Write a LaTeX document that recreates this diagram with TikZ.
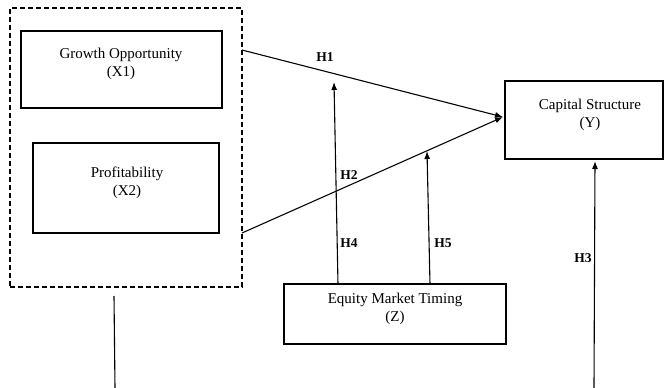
\documentclass[tikz,border=0pt]{standalone}
\usepackage{fontspec}
\setmainfont{Liberation Serif}
\usetikzlibrary{arrows.meta}
\begin{document}
\begin{tikzpicture}[x=1pt,y=-1pt,
  box/.style={draw,line width=1.1pt,inner sep=0pt},
  boxtext/.style={align=center,font=\fontsize{15}{18}\selectfont,inner sep=0pt},
  hlabel/.style={font=\fontsize{13.5}{15}\selectfont\bfseries,inner sep=0pt},
  conn/.style={line width=1.1pt},
  arr/.style={conn,-{Latex[length=8pt,width=6pt]}}]
\useasboundingbox (0,0) rectangle (665,388);
% dashed group
\node[box,dashed,dash pattern=on 5pt off 3pt,minimum width=232pt,minimum height=279pt] (grp) at (126,147.5) {};
% boxes
\node[box,minimum width=201pt,minimum height=77pt] (x1) at (121.5,69.5) {};
\node[boxtext] (x1t) at (121,64) {Growth Opportunity\\(X1)};
\node[box,minimum width=186pt,minimum height=90pt] (x2) at (126,188) {};
\node[boxtext] (x2t) at (127,183) {Profitability\\(X2)};
\node[box,minimum width=158pt,minimum height=78pt] (y) at (584,120) {};
\node[boxtext] (yt) at (590,115) {Capital Structure\\(Y)};
\node[box,minimum width=222pt,minimum height=60pt] (z) at (395,314) {};
\node[boxtext] (zt) at (395,308.5) {Equity Market Timing\\(Z)};
% coordinates
\coordinate (meet) at (503,117);
\coordinate (g1) at (242,50);
\coordinate (g2) at (242,233);
\coordinate (h4s) at (338,284);
\coordinate (h4e) at (334,82);
\coordinate (h5s) at (430,284);
\coordinate (h5e) at (427,151);
\coordinate (h3s) at (594,388);
\coordinate (h3e) at (595,161);
\coordinate (bls) at (114,296);
\coordinate (ble) at (115,388);
% connectors
\draw[arr] (g1) -- (meet);
\draw[arr] (g2) -- (meet);
\draw[arr] (h4s) -- (h4e);
\draw[arr] (h5s) -- (h5e);
\draw[arr] (h3s) -- (h3e);
\draw[conn] (bls) -- (ble);
% labels
\node[hlabel] (l1) at (325,57) {H1};
\node[hlabel] (l2) at (349,175) {H2};
\node[hlabel] (l4) at (349,243) {H4};
\node[hlabel] (l5) at (443,243) {H5};
\node[hlabel] (l3) at (583,258) {H3};
\end{tikzpicture}
\end{document}
